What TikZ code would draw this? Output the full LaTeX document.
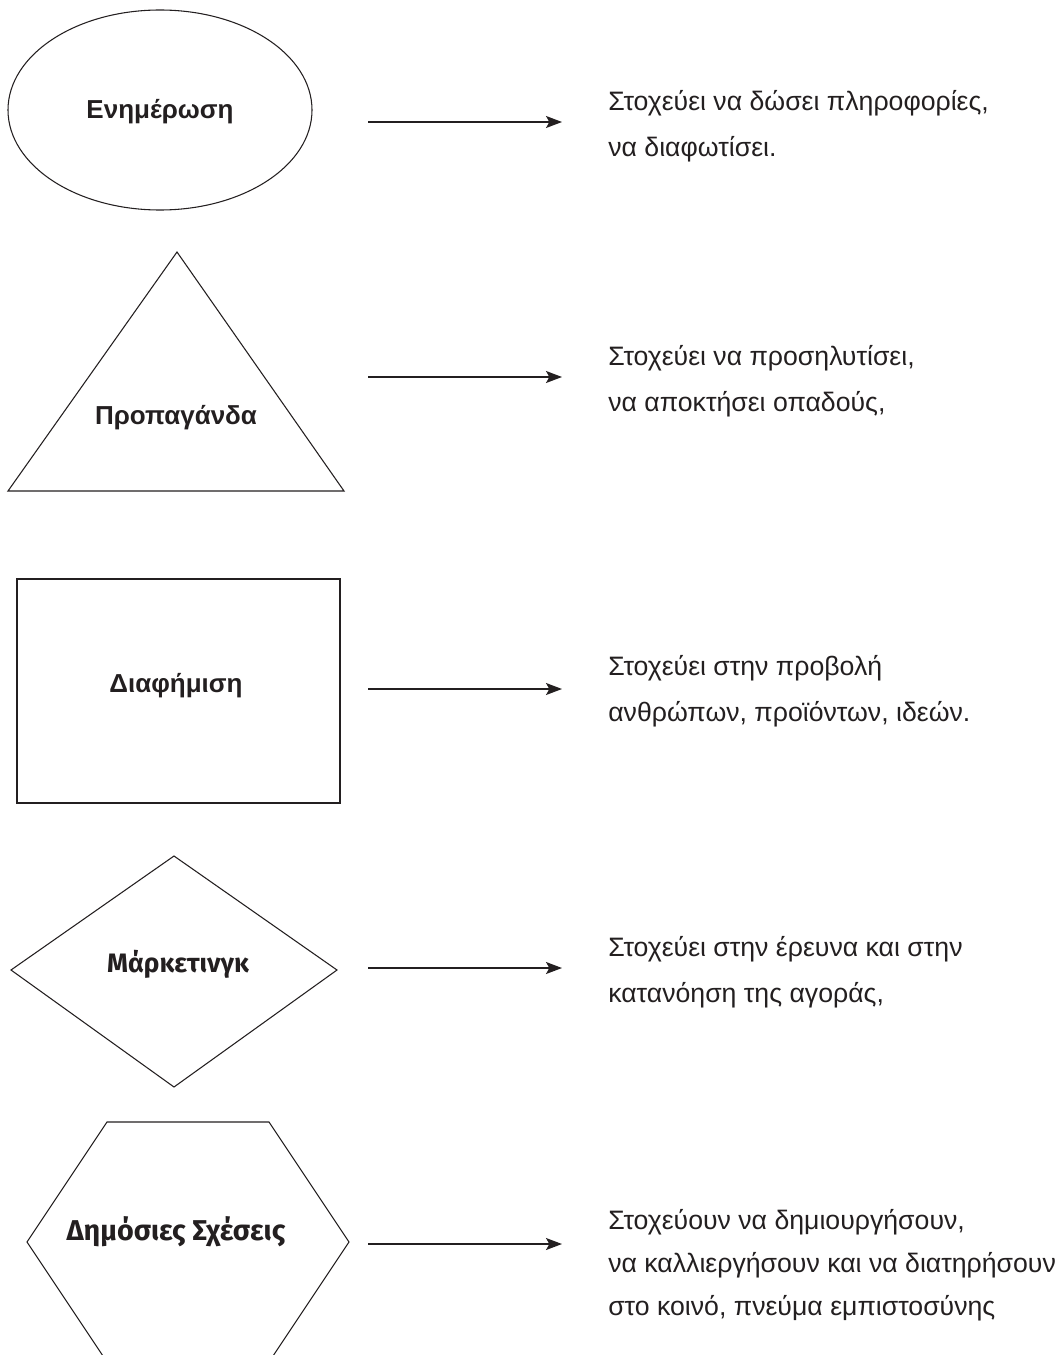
\documentclass[tikz,border=0pt]{standalone}
\usepackage{fontspec}
\setmainfont{Liberation Sans}
\newfontfamily\humfont{Fira Sans}
\usetikzlibrary{arrows.meta}
\definecolor{ink}{RGB}{35,31,32}

\begin{document}
\begin{tikzpicture}[x=0.75pt, y=-0.75pt,
  shapeline/.style={draw=ink, line width=0.8pt},
  title/.style={font=\fontsize{19.5}{24}\selectfont\bfseries, text=ink, inner sep=0pt, anchor=base},
  aim/.style={font=\fontsize{20}{34.5}\selectfont, text=ink, inner sep=0pt, align=left, anchor=base west},
  goes/.style={draw=ink, line width=1pt, -{Stealth[length=12pt, width=9pt, inset=2.5pt]}}]
  \useasboundingbox (0,0) rectangle (1055,1355);
  % shapes on the left
  \draw[shapeline] (160,110) ellipse [x radius=152, y radius=100];
  \draw[shapeline] (177,252) -- (344,491) -- (8,491) -- cycle;
  \draw[shapeline] (17,579) rectangle (340,803);
  \draw[shapeline] (174,856) -- (337,970) -- (174,1087) -- (11,970) -- cycle;
  \begin{scope}
    \clip (0,0) rectangle (1055,1355);
    \draw[shapeline] (107,1122) -- (269,1122) -- (349,1242) -- (269,1362)
      -- (107,1362) -- (27,1242) -- cycle;
  \end{scope}
  % labels in the shapes
  \node[title] (enim) at (160,119) {Ενημέρωση};
  \node[title] (prop) at (176,424) {Προπαγάνδα};
  \node[title] (diaf) at (176,692) {Διαφήμιση};
  \node[title, font=\fontsize{20}{24}\selectfont\humfont\bfseries] (mark) at (178,972) {Μάρκετινγκ};
  \node[title, font=\fontsize{21.5}{26}\selectfont\humfont\bfseries] (dsx) at (176,1240) {Δημόσιες Σχέσεις};
  % aims on the right
  \node[aim] (aim1) at (608,157) {Στοχεύει να δώσει πληροφορίες,\\να διαφωτίσει.};
  \node[aim] (aim2) at (608,411) {Στοχεύει να προσηλυτίσει,\\να αποκτήσει οπαδούς,};
  \node[aim] (aim3) at (608,721) {Στοχεύει στην προβολή\\ανθρώπων, προϊόντων, ιδεών.};
  \node[aim] (aim4) at (608,1002) {Στοχεύει στην έρευνα και στην\\κατανόηση της αγοράς,};
  \node[aim, font=\fontsize{20}{32}\selectfont] (aim5) at (608,1315)
    {Στοχεύουν να δημιουργήσουν,\\να καλλιεργήσουν και να διατηρήσουν\\στο κοινό, πνεύμα εμπιστοσύνης};
  % arrows
  \foreach \y [count=\i] in {122,377,689,968,1244} {
    \coordinate (from\i) at (368,\y);
    \coordinate (to\i) at (562,\y);
    \draw[goes] (from\i) -- (to\i);
  }
\end{tikzpicture}
\end{document}
